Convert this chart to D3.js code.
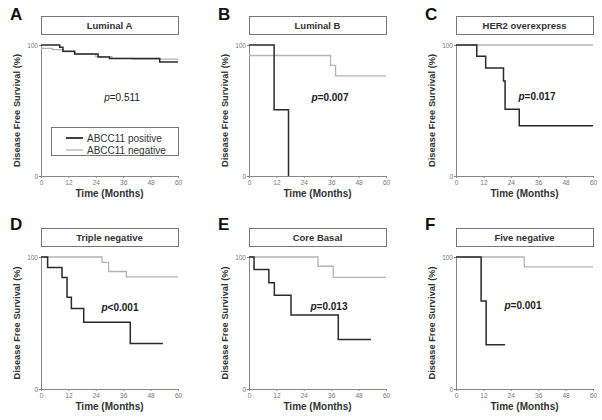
<!DOCTYPE html>
<html><head><meta charset="utf-8">
<script src="https://cdn.jsdelivr.net/npm/d3@7"></script>
<style>body{margin:0;background:#fff}svg{display:block}</style>
</head><body>
<svg id="c" width="602" height="420"></svg>
<script>
// ---- data ----
const panelLetters = ["A","B","C","D","E","F"];
const panelTitles = ["Luminal A","Luminal B","HER2 overexpress","Triple negative","Core Basal","Five negative"];
const pSign = ["=","=","=","<","=","="];
const pValues = ["0.511","0.007","0.017","0.001","0.013","0.001"];
const xTicks = [0,12,24,36,48,60];
const yTicks = [0,100];
const legendLabels = ["ABCC11 positive","ABCC11 negative"];

// [month, survival % from that month on]
const lumAPos = [[0,100],[8.2,98.2],[9.6,95.2],[14.7,93.1],[25,90.8],[30,89.6],[52,87],[60,87]];
const lumANeg = [[0,97.5],[5,96.5],[9.8,95],[15,93],[24,91.2],[31,89.8],[40,89.2],[60,89.2]];
const lumBPos = [[0,100],[11,50.5],[17.3,0],[17.3,0]];
const lumBNeg = [[0,92],[35.7,84.5],[37.9,76.5],[60,76.5]];
const her2Pos = [[0,100],[9.1,91.5],[13,82.5],[20.8,72.5],[21.5,51],[27.7,38.3],[60,38.3]];
const her2Neg = [[0,100],[60,100]];
const tripPos = [[0,100],[2.9,92],[9.2,84.5],[11.4,69.5],[13.3,61],[18.7,50.5],[39.1,34.5],[53.4,34.5]];
const tripNeg = [[0,100],[26.7,96],[29.6,89],[37.4,85],[60,85]];
const corePos = [[0,100],[2.2,90.5],[8.7,80.5],[11.1,71],[18.4,56],[39.1,37.5],[53.4,37.5]];
const coreNeg = [[0,100],[30.2,93],[36.9,84.5],[60,84.5]];
const fivePos = [[0,100],[11,66.7],[13.2,33.5],[21.5,33.5]];
const fiveNeg = [[0,100],[29.9,92.5],[60,92.5]];
const posSeries = [lumAPos,lumBPos,her2Pos,tripPos,corePos,fivePos];
const negSeries = [lumANeg,lumBNeg,her2Neg,tripNeg,coreNeg,fiveNeg];

// ---- layout ----
const colLeft = [41,249,456];
const plotW = 137;
const rowTop = [45,257];
const rowBottom = [176,389];
const titleTop = [16,228];
const letterBase = [20,230];
const pPos = [[122,97],[330,97],[537,96],[120,307],[329,306],[523,305]];

const svg = d3.select("#c");
const font = "Arial, 'Liberation Sans', sans-serif";

panelTitles.forEach((title,i)=>{
  const r = Math.floor(i/3), c = i%3;
  const L = colLeft[c], T = rowTop[r], B = rowBottom[r];
  const x = d3.scaleLinear().domain([0,60]).range([L, L+plotW]);
  const y = d3.scaleLinear().domain([0,100]).range([B, T]);
  const g = svg.append("g");

  // panel letter
  g.append("text").attr("x", L-31).attr("y", letterBase[r])
    .attr("font-family", font).attr("font-weight","bold").attr("font-size",17)
    .attr("fill","#111").text(panelLetters[i]);

  // title box
  g.append("rect").attr("x", L+0.5).attr("y", titleTop[r]+0.5)
    .attr("width", plotW).attr("height", 18)
    .attr("fill","#fff").attr("stroke","#777").attr("stroke-width",1);
  g.append("text").attr("x", L+plotW/2).attr("y", titleTop[r]+12.5)
    .attr("text-anchor","middle").attr("font-family",font).attr("font-weight","bold")
    .attr("font-size",9.5).attr("fill","#333").text(title);

  // axes
  const xa = d3.axisBottom(x).tickValues(xTicks).tickSize(2).tickPadding(2);
  const gx = g.append("g").attr("transform",`translate(0,${B})`).call(xa);
  const ya = d3.axisLeft(y).tickValues(yTicks).tickSize(2).tickPadding(1);
  const gy = g.append("g").attr("transform",`translate(${L},0)`).call(ya);
  [gx,gy].forEach(a=>{
    a.select(".domain").attr("stroke","#888").attr("stroke-width",1);
    a.selectAll(".tick line").attr("stroke","#888");
    a.selectAll(".tick text").attr("font-family",font).attr("font-size",6.5).attr("fill","#777");
  });

  // axis labels
  g.append("text").attr("x", L+plotW/2).attr("y", B+21)
    .attr("text-anchor","middle").attr("font-family",font).attr("font-weight","bold")
    .attr("font-size",10).attr("fill","#333").text("Time (Months)");
  g.append("text").attr("transform",`translate(${L-21},${(T+B)/2}) rotate(-90)`)
    .attr("text-anchor","middle").attr("font-family",font).attr("font-weight","bold")
    .attr("font-size",9.3).attr("fill","#333").text("Disease Free Survival (%)");

  // curves
  const line = d3.line().x(d=>x(d[0])).y(d=>y(d[1])).curve(d3.curveStepAfter);
  g.append("path").datum(negSeries[i]).attr("d",line).attr("fill","none")
    .attr("stroke","#b4b4b4").attr("stroke-width",1.3);
  g.append("path").datum(posSeries[i]).attr("d",line).attr("fill","none")
    .attr("stroke","#2a2a2a").attr("stroke-width",1.5);

  // p value
  const pt = g.append("text").attr("x", pPos[i][0]).attr("y", pPos[i][1]+3.5)
    .attr("text-anchor","middle").attr("font-family",font)
    .attr("font-weight", i===0 ? "normal" : "bold").attr("font-size",10).attr("fill","#222");
  pt.append("tspan").attr("font-style","italic").text("p");
  pt.append("tspan").text(pSign[i]+pValues[i]);

  // legend (panel A only)
  if(i===0){
    const lg = g.append("g");
    lg.append("rect").attr("x",51.5).attr("y",127.5).attr("width",127).attr("height",28)
      .attr("fill","#fff").attr("stroke","#777").attr("stroke-width",1);
    const cols = ["#2a2a2a","#b4b4b4"], wids=[1.8,1.3];
    legendLabels.forEach((lab,k)=>{
      const yy = 138 + k*12;
      lg.append("line").attr("x1",66).attr("x2",83).attr("y1",yy).attr("y2",yy)
        .attr("stroke",cols[k]).attr("stroke-width",wids[k]);
      lg.append("text").attr("x",87).attr("y",yy+3.5).attr("font-family",font)
        .attr("font-size",10).attr("fill","#333").text(lab);
    });
  }
});
</script>
</body></html>
